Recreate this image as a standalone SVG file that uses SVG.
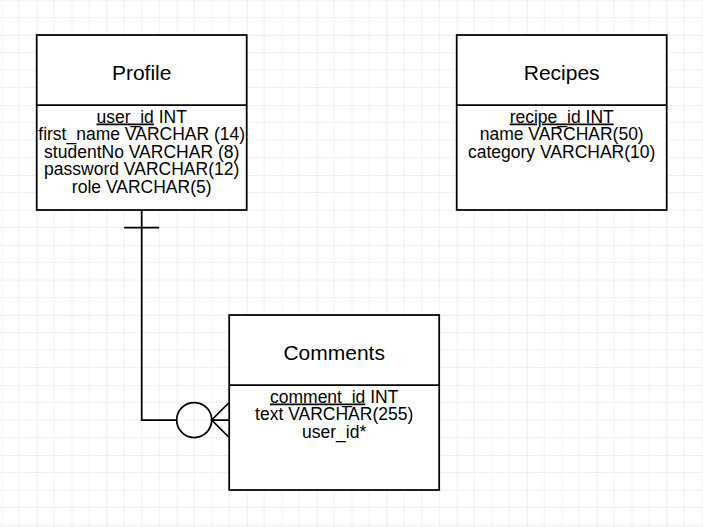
<svg xmlns="http://www.w3.org/2000/svg" width="703" height="527" viewBox="0 0 703 527">
  <defs>
    <pattern id="grid" patternUnits="userSpaceOnUse" x="36.7" y="35" width="70" height="70">
      <path d="M17.5 0V70M35 0V70M52.5 0V70M0 17.5H70M0 35H70M0 52.5H70" stroke="#f0f0f0" stroke-width="1" fill="none"/>
      <path d="M0 0V70M0 0H70" stroke="#e0e0e0" stroke-width="1" fill="none"/>
    </pattern>
  </defs>
  <style>
    .box { fill: #ffffff; stroke: #000000; stroke-width: 1.75; }
    .div { stroke: #000000; stroke-width: 1.75; fill: none; }
    .title { font-family: "Liberation Sans", Arial, sans-serif; font-size: 21px; fill: #000000; text-anchor: middle; }
    .attr { font-family: "Liberation Sans", Arial, sans-serif; font-size: 17.5px; fill: #000000; text-anchor: middle; }
    .u { text-decoration: underline; }
    .conn { stroke: #000000; stroke-width: 1.75; fill: none; }
  </style>
  <rect x="0" y="0" width="703" height="527" fill="#ffffff"/>
  <rect x="0" y="0" width="703" height="527" fill="url(#grid)"/>

  <g id="connectors">
    <path class="conn" d="M141.7 210V420H176.7"/>
    <path class="conn" d="M124.2 227.5H159.2"/>
    <circle class="conn" cx="194.2" cy="420" r="17.5" fill="#ffffff"/>
    <path class="conn" d="M229.2 402.5L211.7 420L229.2 437.5M211.7 420H229.2"/>
  </g>

  <g id="profile">
    <rect class="box" x="36.7" y="35" width="210" height="175"/>
    <line class="div" x1="36.7" y1="105" x2="246.7" y2="105"/>
    <text class="title" x="141.7" y="79.5">Profile</text>
    <text class="attr" x="141.7" y="122.5"><tspan class="u">user_id</tspan> INT</text>
    <text class="attr" x="141.7" y="140">first_name VARCHAR (14)</text>
    <text class="attr" x="141.7" y="157.5">studentNo VARCHAR (8)</text>
    <text class="attr" x="141.7" y="175">password VARCHAR(12)</text>
    <text class="attr" x="141.7" y="192.5">role VARCHAR(5)</text>
  </g>

  <g id="recipes">
    <rect class="box" x="456.7" y="35" width="210" height="175"/>
    <line class="div" x1="456.7" y1="105" x2="666.7" y2="105"/>
    <text class="title" x="561.7" y="79.5">Recipes</text>
    <text class="attr" x="561.7" y="122.5"><tspan class="u">recipe_id INT</tspan></text>
    <text class="attr" x="561.7" y="140">name VARCHAR(50)</text>
    <text class="attr" x="561.7" y="157.5">category VARCHAR(10)</text>
  </g>

  <g id="comments">
    <rect class="box" x="229.2" y="315" width="210" height="175"/>
    <line class="div" x1="229.2" y1="385" x2="439.2" y2="385"/>
    <text class="title" x="334.2" y="359.5">Comments</text>
    <text class="attr" x="334.2" y="402.5"><tspan class="u">comment_id</tspan> INT</text>
    <text class="attr" x="334.2" y="420">text VARCHAR(255)</text>
    <text class="attr" x="334.2" y="437.5">user_id*</text>
  </g>
</svg>
